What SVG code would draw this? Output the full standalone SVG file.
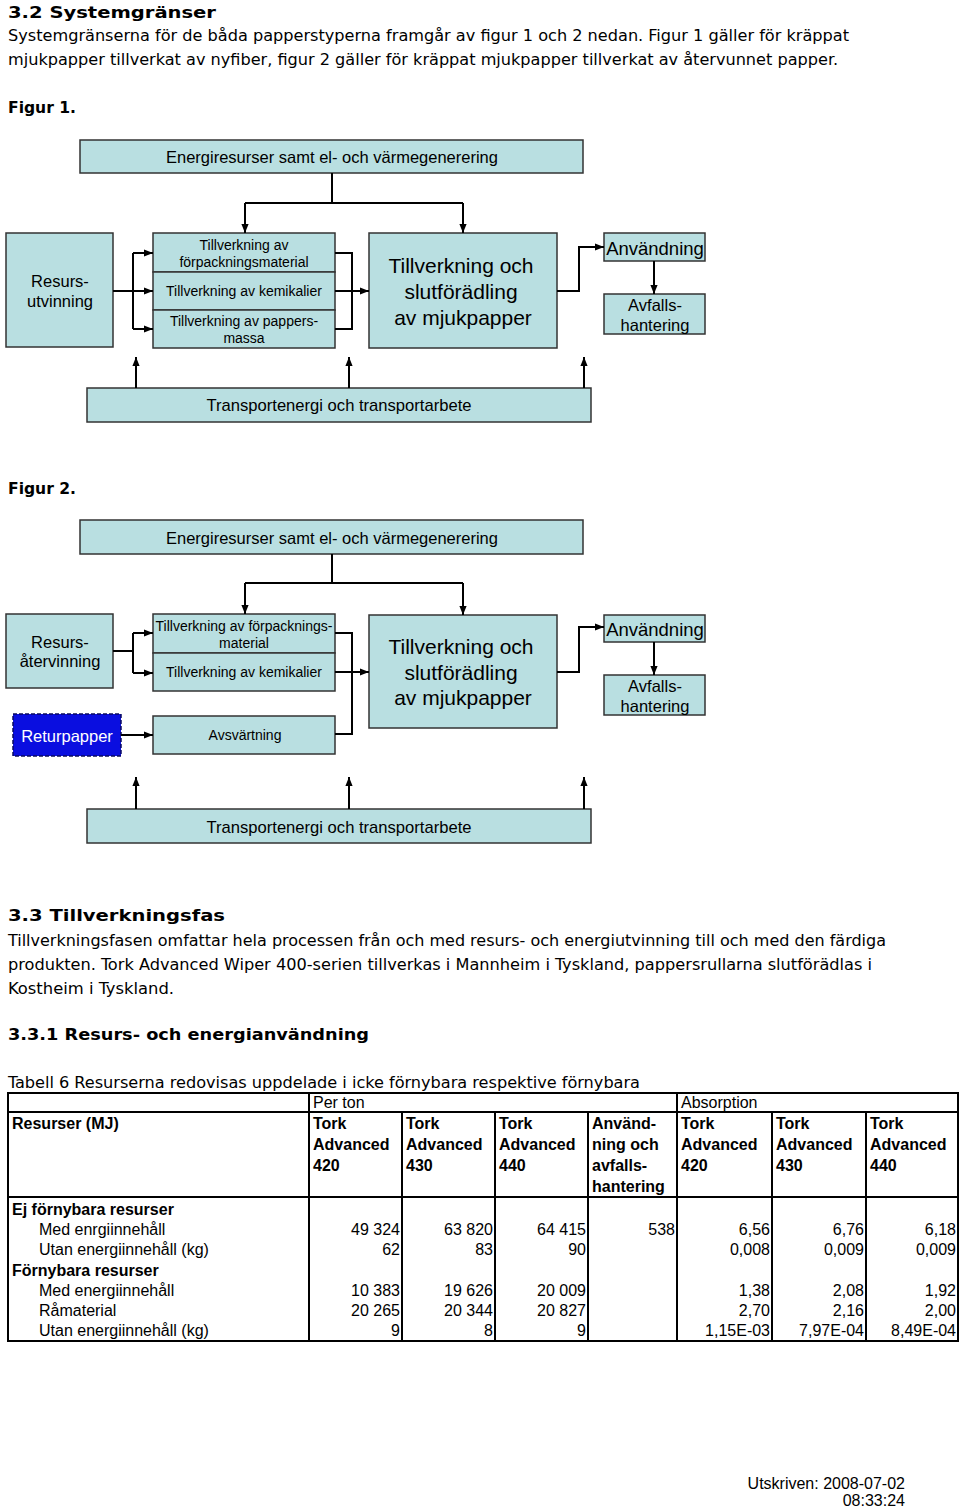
<svg xmlns="http://www.w3.org/2000/svg" width="960" height="1508" viewBox="0 0 960 1508">
<style>
.doc{font-family:"DejaVu Sans Condensed","DejaVu Sans",sans-serif;font-size:16px;fill:#000}
.h{font-weight:bold}
.box{fill:#b9dfe1;stroke:#333;stroke-width:1.5}
.t{font-family:"Liberation Sans",Arial,sans-serif;fill:#000;text-anchor:middle}
.c{fill:none;stroke:#000;stroke-width:2}
.a{marker-end:url(#ah)}
.tb{font-family:"Liberation Sans",Arial,sans-serif;font-size:16px;fill:#000}
.tbb{font-weight:bold}
.r{text-anchor:end}
.grid{stroke:#000;stroke-width:2;fill:none}
</style>
<defs>
<marker id="ah" viewBox="0 0 10 10" refX="10" refY="5" markerWidth="9" markerHeight="9" markerUnits="userSpaceOnUse" orient="auto"><path d="M0,1 L10,5 L0,9 z" fill="#000"/></marker>
</defs>
<rect width="960" height="1508" fill="#fff"/>

<!-- document text -->
<text class="doc h" x="8" y="18" font-size="21" textLength="208" lengthAdjust="spacingAndGlyphs">3.2 Systemgränser</text>
<text class="doc" x="8" y="41" textLength="841" lengthAdjust="spacingAndGlyphs">Systemgränserna för de båda papperstyperna framgår av figur 1 och 2 nedan. Figur 1 gäller för kräppat</text>
<text class="doc" x="8" y="65" textLength="830" lengthAdjust="spacingAndGlyphs">mjukpapper tillverkat av nyfiber, figur 2 gäller för kräppat mjukpapper tillverkat av återvunnet papper.</text>
<text class="doc h" x="8" y="113" textLength="68" lengthAdjust="spacingAndGlyphs">Figur 1.</text>
<text class="doc h" x="8" y="494" textLength="68" lengthAdjust="spacingAndGlyphs">Figur 2.</text>
<text class="doc h" x="8" y="921" font-size="21" textLength="217" lengthAdjust="spacingAndGlyphs">3.3 Tillverkningsfas</text>
<text class="doc" x="8" y="946" textLength="878" lengthAdjust="spacingAndGlyphs">Tillverkningsfasen omfattar hela processen från och med resurs- och energiutvinning till och med den färdiga</text>
<text class="doc" x="8" y="970" textLength="864" lengthAdjust="spacingAndGlyphs">produkten. Tork Advanced Wiper 400-serien tillverkas i Mannheim i Tyskland, pappersrullarna slutförädlas i</text>
<text class="doc" x="8" y="994" textLength="166" lengthAdjust="spacingAndGlyphs">Kostheim i Tyskland.</text>
<text class="doc h" x="8" y="1040" font-size="18" textLength="361" lengthAdjust="spacingAndGlyphs">3.3.1 Resurs- och energianvändning</text>
<text class="doc" x="8" y="1088" textLength="632" lengthAdjust="spacingAndGlyphs">Tabell 6 Resurserna redovisas uppdelade i icke förnybara respektive förnybara</text>

<!-- Figure 1 -->
<g id="f1-energi"><rect class="box" x="80" y="140" width="503" height="33"/><text class="t" x="332" y="163" font-size="16.5">Energiresurser samt el- och värmegenerering</text></g>
<g id="f1-resurs"><rect class="box" x="6" y="233" width="107" height="114"/><text class="t" x="60" y="287" font-size="16.5">Resurs-</text><text class="t" x="60" y="307" font-size="16.5">utvinning</text></g>
<g id="f1-forpack"><rect class="box" x="153" y="233" width="182" height="39"/><text class="t" x="244" y="250" font-size="14">Tillverkning av</text><text class="t" x="244" y="267" font-size="14">förpackningsmaterial</text></g>
<g id="f1-kemikalier"><rect class="box" x="153" y="272" width="182" height="38"/><text class="t" x="244" y="296" font-size="14">Tillverkning av kemikalier</text></g>
<g id="f1-massa"><rect class="box" x="153" y="310" width="182" height="38"/><text class="t" x="244" y="326" font-size="14">Tillverkning av pappers-</text><text class="t" x="244" y="343" font-size="14">massa</text></g>
<g id="f1-tillv"><rect class="box" x="369" y="233" width="188" height="115"/><text class="t" x="461" y="273" font-size="21">Tillverkning och</text><text class="t" x="461" y="299" font-size="21">slutförädling</text><text class="t" x="463" y="325" font-size="21">av mjukpapper</text></g>
<g id="f1-anv"><rect class="box" x="604" y="233" width="101" height="28"/><text class="t" x="655" y="255" font-size="18.5">Användning</text></g>
<g id="f1-avfall"><rect class="box" x="604" y="294" width="101" height="40"/><text class="t" x="655" y="311" font-size="16.5">Avfalls-</text><text class="t" x="655" y="331" font-size="16.5">hantering</text></g>
<g id="f1-transport"><rect class="box" x="87" y="388" width="504" height="34"/><text class="t" x="339" y="411" font-size="16.6">Transportenergi och transportarbete</text></g>

<!-- Figure 2 -->
<g id="f2-energi"><rect class="box" x="80" y="520" width="503" height="34"/><text class="t" x="332" y="544" font-size="16.5">Energiresurser samt el- och värmegenerering</text></g>
<g id="f2-resurs"><rect class="box" x="6" y="614" width="107" height="74"/><text class="t" x="60" y="648" font-size="16.5">Resurs-</text><text class="t" x="60" y="667" font-size="16.5">återvinning</text></g>
<g id="f2-returpapper"><rect x="13" y="714" width="108" height="42" fill="#0a0ee0" stroke="#0a0a60" stroke-width="1.5" stroke-dasharray="4,2"/><text class="t" x="67" y="742" font-size="16.5" style="fill:#fff">Returpapper</text></g>
<g id="f2-forpack"><rect class="box" x="153" y="614" width="182" height="39"/><text class="t" x="244" y="631" font-size="14">Tillverkning av förpacknings-</text><text class="t" x="244" y="648" font-size="14">material</text></g>
<g id="f2-kemikalier"><rect class="box" x="153" y="653" width="182" height="38"/><text class="t" x="244" y="677" font-size="14">Tillverkning av kemikalier</text></g>
<g id="f2-avsvart"><rect class="box" x="153" y="716" width="182" height="38"/><text class="t" x="245" y="740" font-size="14">Avsvärtning</text></g>
<g id="f2-tillv"><rect class="box" x="369" y="615" width="188" height="113"/><text class="t" x="461" y="654" font-size="21">Tillverkning och</text><text class="t" x="461" y="680" font-size="21">slutförädling</text><text class="t" x="463" y="705" font-size="21">av mjukpapper</text></g>
<g id="f2-anv"><rect class="box" x="604" y="615" width="101" height="27"/><text class="t" x="655" y="636" font-size="18.5">Användning</text></g>
<g id="f2-avfall"><rect class="box" x="604" y="675" width="101" height="40"/><text class="t" x="655" y="692" font-size="16.5">Avfalls-</text><text class="t" x="655" y="712" font-size="16.5">hantering</text></g>
<g id="f2-transport"><rect class="box" x="87" y="809" width="504" height="34"/><text class="t" x="339" y="833" font-size="16.6">Transportenergi och transportarbete</text></g>

<!-- connectors -->
<g id="connectors">
<path class="c" d="M332,173 V203 M245,203 H463"/>
<path class="c a" d="M245,203 V233"/>
<path class="c a" d="M463,203 V233"/>
<path class="c" d="M113,291 H133 M133,253 V329"/>
<path class="c a" d="M133,253 H153"/>
<path class="c a" d="M133,291 H153"/>
<path class="c a" d="M133,329 H153"/>
<path class="c" d="M335,253 H352 V329 H335"/>
<path class="c a" d="M335,291 H369"/>
<path class="c a" d="M557,291 H579 V247 H604"/>
<path class="c a" d="M654,261 V294"/>
<path class="c a" d="M136,388 V357"/>
<path class="c a" d="M349,388 V357"/>
<path class="c a" d="M584,388 V357"/>

<path class="c" d="M332,554 V583 M245,583 H463"/>
<path class="c a" d="M245,583 V614"/>
<path class="c a" d="M463,583 V615"/>
<path class="c" d="M113,651 H133 M133,633 V673"/>
<path class="c a" d="M133,633 H153"/>
<path class="c a" d="M133,673 H153"/>
<path class="c a" d="M121,735 H153"/>
<path class="c" d="M335,633 H352 V734 H335"/>
<path class="c a" d="M335,672 H369"/>
<path class="c a" d="M557,672 H579 V627 H604"/>
<path class="c a" d="M654,642 V675"/>
<path class="c a" d="M136,809 V777"/>
<path class="c a" d="M349,809 V777"/>
<path class="c a" d="M584,809 V777"/>
</g>

<!-- table -->
<g id="table">
<rect x="8" y="1093" width="950" height="248" fill="#fff" stroke="#000" stroke-width="2"/>
<path class="grid" d="M8,1112 H958 M8,1197 H958 M309,1093 V1341 M677,1093 V1341 M402,1112 V1341 M495,1112 V1341 M588,1112 V1341 M772,1112 V1341 M866,1112 V1341"/>
<text class="tb" x="313" y="1108">Per ton</text>
<text class="tb" x="681" y="1108">Absorption</text>
<g class="tb tbb">
<text x="12" y="1129">Resurser (MJ)</text>
<text x="313" y="1129">Tork</text><text x="313" y="1150">Advanced</text><text x="313" y="1171">420</text>
<text x="406" y="1129">Tork</text><text x="406" y="1150">Advanced</text><text x="406" y="1171">430</text>
<text x="499" y="1129">Tork</text><text x="499" y="1150">Advanced</text><text x="499" y="1171">440</text>
<text x="592" y="1129">Använd-</text><text x="592" y="1150">ning och</text><text x="592" y="1171">avfalls-</text><text x="592" y="1192">hantering</text>
<text x="681" y="1129">Tork</text><text x="681" y="1150">Advanced</text><text x="681" y="1171">420</text>
<text x="776" y="1129">Tork</text><text x="776" y="1150">Advanced</text><text x="776" y="1171">430</text>
<text x="870" y="1129">Tork</text><text x="870" y="1150">Advanced</text><text x="870" y="1171">440</text>
<text x="12" y="1215">Ej förnybara resurser</text>
<text x="12" y="1276">Förnybara resurser</text>
</g>
<g class="tb">
<text x="39" y="1235">Med enrgiinnehåll</text>
<text x="39" y="1255">Utan energiinnehåll (kg)</text>
<text x="39" y="1296">Med energiinnehåll</text>
<text x="39" y="1316">Råmaterial</text>
<text x="39" y="1336">Utan energiinnehåll (kg)</text>
</g>
<g class="tb r">
<text x="400" y="1235">49 324</text><text x="493" y="1235">63 820</text><text x="586" y="1235">64 415</text><text x="675" y="1235">538</text><text x="770" y="1235">6,56</text><text x="864" y="1235">6,76</text><text x="956" y="1235">6,18</text>
<text x="400" y="1255">62</text><text x="493" y="1255">83</text><text x="586" y="1255">90</text><text x="770" y="1255">0,008</text><text x="864" y="1255">0,009</text><text x="956" y="1255">0,009</text>
<text x="400" y="1296">10 383</text><text x="493" y="1296">19 626</text><text x="586" y="1296">20 009</text><text x="770" y="1296">1,38</text><text x="864" y="1296">2,08</text><text x="956" y="1296">1,92</text>
<text x="400" y="1316">20 265</text><text x="493" y="1316">20 344</text><text x="586" y="1316">20 827</text><text x="770" y="1316">2,70</text><text x="864" y="1316">2,16</text><text x="956" y="1316">2,00</text>
<text x="400" y="1336">9</text><text x="493" y="1336">8</text><text x="586" y="1336">9</text><text x="770" y="1336">1,15E-03</text><text x="864" y="1336">7,97E-04</text><text x="956" y="1336">8,49E-04</text>
</g>
</g>

<text class="tb r" x="905" y="1489">Utskriven: 2008-07-02</text>
<text class="tb r" x="905" y="1506">08:33:24</text>
</svg>
